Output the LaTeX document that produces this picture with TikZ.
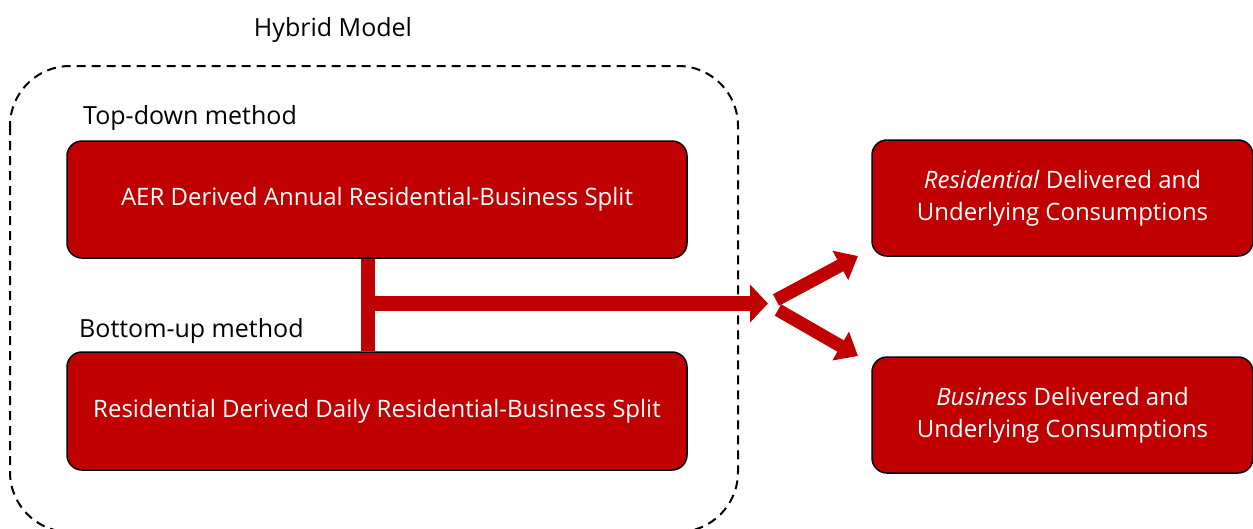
\documentclass[tikz,border=0pt]{standalone}
\usepackage{fontspec}
\setmainfont{Open Sans}
\usetikzlibrary{arrows.meta,positioning}
\definecolor{boxred}{RGB}{192,0,0}

\begin{document}
\begin{tikzpicture}[x=1pt,y=-1pt,
    redbox/.style={draw=black,line width=1.5pt,fill=boxred,rounded corners=15pt,
      text=white,align=center,inner sep=0pt,font=\fontsize{24}{32}\selectfont},
    fatarrow/.style={draw=boxred,line width=15pt,
      -{Triangle[length=18pt,width=37pt]}},
    thinarrow/.style={draw=boxred,line width=13pt,
      -{Triangle[length=20pt,width=32pt]}},
    caption/.style={font=\fontsize{25}{30}\selectfont,inner sep=0pt}]
          \useasboundingbox (0,0) rectangle (1253,528);
          \clip (0,0) rectangle (1253,528);
          \draw[dash pattern=on 9pt off 6pt,line width=2pt,rounded corners=60pt]
            (10,66) rectangle (738,532); % hybrid frame
          \node[caption] (hybrid) at (333,30) {Hybrid Model};
          \node[caption,anchor=west] (topdown) at (83,118) {Top-down method};
          \node[caption,anchor=west] (bottomup) at (79,331) {Bottom-up method};
          \node[redbox,minimum width=620pt,minimum height=117pt] (aer) at (377,199.5)
            {\raisebox{-3pt}{AER Derived Annual Residential-Business Split}};
          \node[redbox,minimum width=620pt,minimum height=118pt] (daily) at (377,411)
            {\raisebox{-3pt}{Residential Derived Daily Residential-Business Split}};
          \node[redbox,minimum width=381pt,minimum height=116pt] (resid) at (1062.5,198)
            {\textit{Residential} Delivered and\\Underlying Consumptions};
          \node[redbox,minimum width=381pt,minimum height=116pt] (busi) at (1062.5,415)
            {\textit{Business} Delivered and\\Underlying Consumptions};
          \coordinate (split) at (368,303.5); % join
          \coordinate (fork) at (768,303.5);
          \coordinate (forkup) at (776,300);
          \coordinate (forkdown) at (778,310);
          \coordinate (tipup) at (858,256);
          \coordinate (tipdown) at (858,356);
          \draw[boxred,line width=14pt] (aer.south -| split) -- (daily.north -| split);
          \draw[fatarrow] (split) -- (fork);
          \draw[thinarrow] (forkup) -- (tipup);
          \draw[thinarrow] (forkdown) -- (tipdown);
        \end{tikzpicture}
\end{document}
